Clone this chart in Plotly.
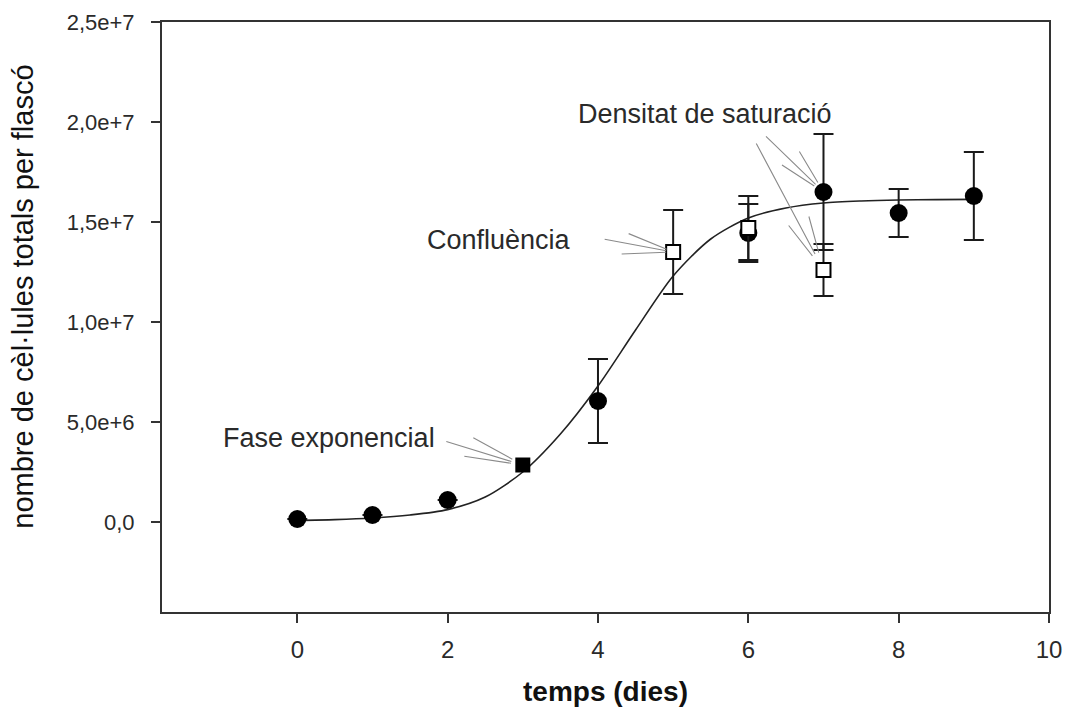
import plotly.graph_objects as go

# Cell counts per flask over time (days)
circle_days = [0, 1, 2, 4, 6, 7, 8, 9]
circle_cells = [0.15e6, 0.35e6, 1.1e6, 6.05e6, 14.45e6, 16.5e6, 15.45e6, 16.3e6]
circle_err = [0, 0, 0, 2.1e6, 1.45e6, 2.9e6, 1.2e6, 2.2e6]

exp_days = [3]
exp_cells = [2.85e6]

open_days = [5, 6, 7]
open_cells = [13.5e6, 14.7e6, 12.6e6]
open_err = [2.1e6, 1.6e6, 1.3e6]

# Fitted growth curve
fit_days = [0, 0.5, 1, 1.5, 2, 2.5, 3, 3.5, 4, 4.5, 5, 5.5, 6, 6.5, 7, 7.5, 8, 8.5, 9]
fit_cells = [0.08e6, 0.12e6, 0.2e6, 0.35e6, 0.62e6, 1.25e6, 2.5e6, 4.4e6, 6.8e6, 9.6e6,
             12.3e6, 14.15e6, 15.2e6, 15.7e6, 15.95e6, 16.05e6, 16.1e6, 16.12e6, 16.13e6]

y_tickvals = [0, 5e6, 10e6, 15e6, 20e6, 25e6]
y_ticktext = ["0,0", "5,0e+6", "1,0e+7", "1,5e+7", "2,0e+7", "2,5e+7"]
x_tickvals = [0, 2, 4, 6, 8, 10]

FONT = "Liberation Sans, Arial, sans-serif"
NARROW = "Liberation Sans Narrow, Arial Narrow, Liberation Sans, sans-serif"
INK = "#1a1a1a"
GUIDE = "#8a8a8a"

fig = go.Figure()

fig.add_trace(go.Scatter(
    x=fit_days, y=fit_cells, mode="lines",
    line=dict(color="#222222", width=1.6, shape="spline", smoothing=0.8),
    hoverinfo="skip", showlegend=False,
))

circle_err_arr = [e if e > 0 else None for e in circle_err]
fig.add_trace(go.Scatter(
    x=circle_days, y=circle_cells, mode="markers",
    marker=dict(symbol="circle", size=18, color="black", line=dict(width=0)),
    error_y=dict(type="data", array=circle_err_arr, visible=True,
                 color=INK, thickness=2, width=10),
    showlegend=False,
))

fig.add_trace(go.Scatter(
    x=exp_days, y=exp_cells, mode="markers",
    marker=dict(symbol="square", size=15, color="black", line=dict(width=0)),
    showlegend=False,
))

fig.add_trace(go.Scatter(
    x=open_days, y=open_cells, mode="markers",
    marker=dict(symbol="square", size=14, color="white", line=dict(width=2, color="black")),
    error_y=dict(type="data", array=open_err, visible=True,
                 color=INK, thickness=2, width=10),
    showlegend=False,
))

annotations = []

def pointer(x, y, offsets, standoff):
    for ax, ay in offsets:
        annotations.append(dict(
            x=x, y=y, xref="x", yref="y", text="", showarrow=True,
            arrowhead=0, arrowwidth=1.1, arrowcolor=GUIDE,
            ax=ax, ay=ay, standoff=standoff,
        ))

pointer(exp_days[0], exp_cells[0], [(-78, -24), (-51, -28), (-60, -9)], 12)
pointer(open_days[0], open_cells[0], [(-70, -13), (-46, -19), (-53, 2)], 7)
pointer(circle_days[5], circle_cells[5], [(-59, -57), (-25, -42), (-43, -28)], 11)
pointer(open_days[2], open_cells[2], [(-68, -128), (-36, -46), (-15, -55)], 18)

label_font = dict(family=FONT, size=27, color="#2a2a2a")
annotations += [
    dict(x=1.86, y=4.2e6, xref="x", yref="y", text="Fase exponencial",
         showarrow=False, xanchor="right", yanchor="middle", font=label_font),
    dict(x=3.67, y=14.1e6, xref="x", yref="y", text="Confluència",
         showarrow=False, xanchor="right", yanchor="middle", font=label_font),
    dict(x=3.71, y=20.4e6, xref="x", yref="y", text="Densitat de saturació",
         showarrow=False, xanchor="left", yanchor="middle", font=label_font),
    # vertical axis title
    dict(x=-0.157, y=0.534, xref="paper", yref="paper",
         text="nombre de cèl·lules totals per flascó", textangle=-90,
         showarrow=False, xanchor="center", yanchor="middle",
         font=dict(family=FONT, size=29, color="#111111")),
]

axis_common = dict(
    showline=True, mirror=True, linecolor="#333333", linewidth=2,
    ticks="outside", ticklen=9, tickwidth=2, tickcolor="#333333",
    showgrid=False, zeroline=False, automargin=False,
)

fig.update_layout(
    width=1068, height=709,
    margin=dict(l=162, r=19, t=22, b=97),
    paper_bgcolor="white", plot_bgcolor="white",
    xaxis=dict(range=[-1.8, 10], tickvals=x_tickvals, **axis_common,
               tickfont=dict(family=NARROW, size=24, color="#2a2a2a"),
               ticklabelstandoff=6,
               title=dict(text="temps (dies)",
                          font=dict(family=FONT, size=28, color="#111111", weight="bold"),
                          standoff=20)),
    yaxis=dict(range=[-4.5e6, 25e6], tickvals=y_tickvals, ticktext=y_ticktext, **axis_common,
               tickfont=dict(family=FONT, size=22, color="#2a2a2a"),
               ticklabelstandoff=12),
    annotations=annotations,
)

fig.write_html("out.html")
